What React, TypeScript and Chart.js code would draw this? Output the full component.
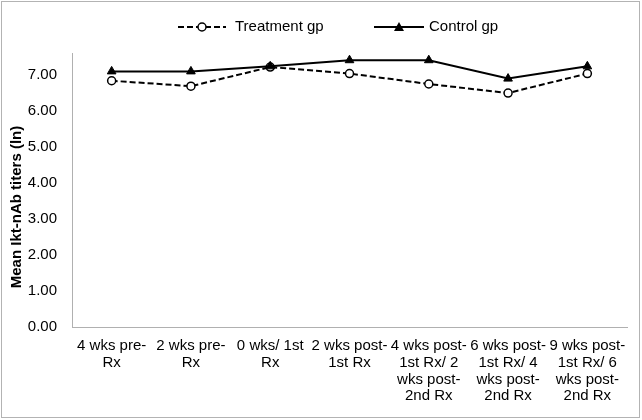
import React, { useEffect, useRef } from "react";
import { Chart, registerables } from "chart.js";

Chart.register(...registerables);

const categories: string[][] = [
  ["4 wks pre-", "Rx"],
  ["2 wks pre-", "Rx"],
  ["0 wks/ 1st", "Rx"],
  ["2 wks post-", "1st Rx"],
  ["4 wks post-", "1st Rx/ 2", "wks post-", "2nd Rx"],
  ["6 wks post-", "1st Rx/ 4", "wks post-", "2nd Rx"],
  ["9 wks post-", "1st Rx/ 6", "wks post-", "2nd Rx"],
];
const treatmentValues = [6.83, 6.68, 7.21, 7.03, 6.74, 6.49, 7.03];
const controlValues = [7.09, 7.09, 7.23, 7.4, 7.4, 6.89, 7.23];
const seriesNames = ["Treatment gp", "Control gp"];
const yTitle = "Mean Ikt-nAb titers (ln)";

const FONT = "'Liberation Sans', Arial, sans-serif";

const legendTitleBorder = {
  id: "legendTitleBorder",
  afterDraw(chart: any) {
    const ctx = chart.ctx as CanvasRenderingContext2D;
    ctx.save();
    // outer border
    ctx.strokeStyle = "#b3b3b3";
    ctx.lineWidth = 1;
    ctx.strokeRect(1.5, 1.5, 638, 416);

    // y-axis title
    ctx.save();
    ctx.translate(17, 207);
    ctx.rotate(-Math.PI / 2);
    ctx.font = `bold 15px ${FONT}`;
    ctx.fillStyle = "#000";
    ctx.textAlign = "center";
    ctx.textBaseline = "middle";
    ctx.fillText(yTitle, 0, 0);
    ctx.restore();

    const y = 27;
    ctx.font = `15px ${FONT}`;
    ctx.textBaseline = "middle";
    ctx.fillStyle = "#000";
    // Treatment entry
    ctx.strokeStyle = "#000";
    ctx.lineWidth = 2;
    ctx.setLineDash([6, 3]);
    ctx.beginPath();
    ctx.moveTo(178, y);
    ctx.lineTo(226, y);
    ctx.stroke();
    ctx.setLineDash([]);
    ctx.beginPath();
    ctx.arc(202, y, 4, 0, Math.PI * 2);
    ctx.fillStyle = "#fff";
    ctx.fill();
    ctx.lineWidth = 1.5;
    ctx.stroke();
    ctx.fillStyle = "#000";
    ctx.textAlign = "left";
    ctx.fillText(seriesNames[0], 235, y);
    // Control entry
    ctx.lineWidth = 2;
    ctx.beginPath();
    ctx.moveTo(374, y);
    ctx.lineTo(424, y);
    ctx.stroke();
    ctx.beginPath();
    ctx.moveTo(399, y - 5);
    ctx.lineTo(404, y + 4);
    ctx.lineTo(394, y + 4);
    ctx.closePath();
    ctx.fill();
    ctx.fillText(seriesNames[1], 429, y);
    ctx.restore();
  },
};

export default function App() {
  const ref = useRef<HTMLCanvasElement | null>(null);
  useEffect(() => {
    document.body.style.margin = "0";
    const canvas = ref.current!;
    const chart = new Chart(canvas, {
      type: "line",
      data: {
        labels: categories,
        datasets: [
          {
            label: seriesNames[0],
            data: treatmentValues,
            borderColor: "#000",
            borderWidth: 2,
            borderDash: [6, 3],
            pointStyle: "circle",
            pointRadius: 4,
            pointBackgroundColor: "#fff",
            pointBorderColor: "#000",
            pointBorderWidth: 1.5,
            tension: 0,
            order: 2,
          },
          {
            label: seriesNames[1],
            data: controlValues,
            borderColor: "#000",
            borderWidth: 2,
            pointStyle: "triangle",
            pointRadius: 5,
            pointBackgroundColor: "#000",
            pointBorderColor: "#000",
            pointBorderWidth: 1,
            tension: 0,
            order: 1,
          },
        ],
      },
      options: {
        responsive: false,
        animation: false,
        layout: { padding: { top: 53, left: 0, right: 15, bottom: 0 } },
        plugins: {
          legend: { display: false },
          tooltip: { enabled: false },
        },
        scales: {
          x: {
            offset: true,
            grid: { display: false, drawTicks: false },
            border: { display: true, color: "#b0b0b0", width: 1 },
            ticks: {
              maxRotation: 0,
              minRotation: 0,
              autoSkip: false,
              padding: 10,
              color: "#000",
              font: { family: FONT, size: 15, lineHeight: 1.13 },
            },
            afterFit(scale: any) {
              scale.height = 93;
            },
          },
          y: {
            min: 0,
            max: 7.6,
            grid: { display: false, drawTicks: false },
            border: { display: true, color: "#b0b0b0", width: 1 },
            ticks: {
              stepSize: 1,
              padding: 15,
              color: "#000",
              font: { family: FONT, size: 15 },
              callback: (v: any) => Number(v).toFixed(2),
            },
            afterBuildTicks(scale: any) {
              scale.ticks = scale.ticks.filter((t: any) => Number.isInteger(t.value));
            },
            title: { display: false, text: yTitle },
            afterFit(scale: any) {
              scale.width = 72;
              scale.paddingTop = 0;
              scale.paddingBottom = 0;
            },
          },
        },
      },
      plugins: [legendTitleBorder],
    });
    return () => chart.destroy();
  }, []);
  return (
    <div style={{ position: "absolute", left: 0, top: 0, width: 642, height: 420 }}>
      <canvas ref={ref} width={642} height={420} style={{ width: 642, height: 420, display: "block" }} />
    </div>
  );
}
